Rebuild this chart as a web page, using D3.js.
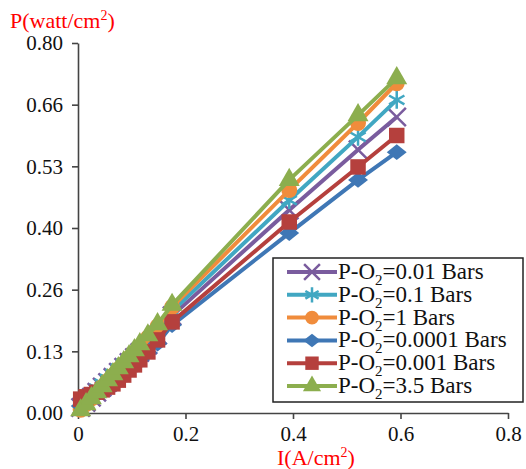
<!DOCTYPE html>
<html>
<head>
<meta charset="utf-8">
<script src="https://cdn.jsdelivr.net/npm/d3@7"></script>
<style>
  body { margin: 0; background: #fff; }
</style>
</head>
<body>
<div id="viz"></div>
<script>
// current density values (A/cm2), shared by all series
let currents = [0.005, 0.015, 0.025, 0.035, 0.045, 0.055, 0.065, 0.075, 0.085, 0.095, 0.105, 0.115, 0.13, 0.148, 0.175, 0.393, 0.521, 0.593]

// power density (watt/cm2) for each O2 pressure
let p001 = [0.012, 0.023, 0.034, 0.045, 0.056, 0.066, 0.077, 0.088, 0.099, 0.109, 0.120, 0.131, 0.147, 0.168, 0.210, 0.439, 0.569, 0.640]
let p01 = [0.020, 0.031, 0.042, 0.053, 0.064, 0.074, 0.085, 0.096, 0.107, 0.117, 0.128, 0.139, 0.156, 0.178, 0.220, 0.460, 0.597, 0.677]
let p1 = [0.007, 0.019, 0.031, 0.044, 0.056, 0.069, 0.081, 0.094, 0.106, 0.119, 0.131, 0.144, 0.163, 0.187, 0.229, 0.482, 0.627, 0.713]
let p00001 = [0.015, 0.025, 0.034, 0.043, 0.052, 0.061, 0.070, 0.079, 0.088, 0.097, 0.106, 0.115, 0.130, 0.150, 0.190, 0.389, 0.504, 0.564]
let p0001 = [0.030, 0.035, 0.040, 0.045, 0.050, 0.056, 0.063, 0.071, 0.082, 0.093, 0.104, 0.115, 0.132, 0.158, 0.197, 0.413, 0.532, 0.600]
let p35 = [0.006, 0.019, 0.032, 0.045, 0.058, 0.071, 0.084, 0.097, 0.110, 0.123, 0.136, 0.149, 0.168, 0.192, 0.234, 0.504, 0.644, 0.724]

let seriesNames = ['0.01', '0.1', '1', '0.0001', '0.001', '3.5']
let seriesValues = [p001, p01, p1, p00001, p0001, p35]
let seriesColors = ['#7a5c9e', '#41a7c2', '#f08c3c', '#3f77b5', '#b5403d', '#8cae4e']
let seriesMarkers = ['times', 'asterisk', 'circle', 'diamond', 'square', 'triangle']

let xTicks = [0, 0.2, 0.4, 0.6, 0.8]
let xTickLabels = ['0', '0.2', '0.4', '0.6', '0.8']
let yTicks = [0, 0.8 / 6, 1.6 / 6, 0.4, 3.2 / 6, 4 / 6, 0.8]
let yTickLabels = ['0.00', '0.13', '0.26', '0.40', '0.53', '0.66', '0.80']

let width = 526, height = 469
let font = '"Liberation Serif", "Times New Roman", serif'

let svg = d3.select('#viz')
			.append('svg')
			.attr('width', width)
			.attr('height', height)
			.style('font-family', font)

let x = d3.scaleLinear().domain([0, 0.8]).range([78, 508])
let y = d3.scaleLinear().domain([0, 0.8]).range([413, 43])

//axes
let xAxis = svg.append('g')
				.attr('transform', `translate(0, ${y(0)})`)
				.call(d3.axisBottom(x)
						.tickValues(xTicks)
						.tickFormat((d, i) => xTickLabels[i])
						.tickSize(6)
						.tickSizeOuter(0)
						.tickPadding(7))

let yAxis = svg.append('g')
				.attr('transform', `translate(${x(0)}, 0)`)
				.call(d3.axisLeft(y)
						.tickValues(yTicks)
						.tickFormat((d, i) => yTickLabels[i])
						.tickSize(6)
						.tickSizeOuter(0)
						.tickPadding(9))

svg.selectAll('.domain, .tick line')
	.attr('stroke', '#444')
	.attr('stroke-width', 1.6)

svg.selectAll('.tick text')
	.attr('font-family', null)
	.style('font-family', font)
	.style('font-size', '21px')
	.attr('fill', '#111')

//axis titles
let yTitle = svg.append('text')
				.attr('x', 10)
				.attr('y', 28)
				.attr('fill', '#ff0000')
				.style('font-size', '22px')
yTitle.append('tspan').text('P(watt/cm')
yTitle.append('tspan').attr('dy', -8).style('font-size', '14px').text('2')
yTitle.append('tspan').attr('dy', 8).text(')')

let xTitle = svg.append('text')
				.attr('x', 277)
				.attr('y', 465)
				.attr('fill', '#ff0000')
				.style('font-size', '22px')
xTitle.append('tspan').text('I(A/cm')
xTitle.append('tspan').attr('dy', -8).style('font-size', '14px').text('2')
xTitle.append('tspan').attr('dy', 8).text(')')

//marker helper
function drawMarker(g, type, color, s) {
	if (type === 'times') {
		g.append('path')
			.attr('d', d3.symbol().type(d3.symbolTimes).size(s * 1.1)())
			.attr('fill', 'none').attr('stroke', color).attr('stroke-width', 2.5)
	} else if (type === 'asterisk') {
		g.append('path')
			.attr('d', d3.symbol().type(d3.symbolAsterisk).size(s * 1.1)())
			.attr('fill', 'none').attr('stroke', color).attr('stroke-width', 2.5)
	} else if (type === 'circle') {
		g.append('path')
			.attr('d', d3.symbol().type(d3.symbolCircle).size(s)())
			.attr('fill', color)
	} else if (type === 'diamond') {
		g.append('path')
			.attr('d', d3.symbol().type(d3.symbolSquare).size(s * 0.75)())
			.attr('transform', 'scale(1.15, 0.9) rotate(45)')
			.attr('fill', color)
	} else if (type === 'square') {
		g.append('path')
			.attr('d', d3.symbol().type(d3.symbolSquare).size(s * 1.2)())
			.attr('fill', color)
	} else {
		g.append('path')
			.attr('d', d3.symbol().type(d3.symbolTriangle).size(s * 0.95)())
			.attr('fill', color)
	}
}

let line = d3.line()
			.x((d, i) => x(currents[i]))
			.y(d => y(d))

//series lines and markers
seriesValues.forEach((vals, k) => {
	let g = svg.append('g')
	g.append('path')
		.datum(vals)
		.attr('d', line)
		.attr('fill', 'none')
		.attr('stroke', seriesColors[k])
		.attr('stroke-width', 4)
		.attr('stroke-linejoin', 'round')

	vals.forEach((v, i) => {
		let m = g.append('g')
				.attr('transform', `translate(${x(currents[i])}, ${y(v)})`)
		drawMarker(m, seriesMarkers[k], seriesColors[k], 200)
	})
})

//legend
let legend = svg.append('g')

legend.append('rect')
		.attr('x', 273)
		.attr('y', 258)
		.attr('width', 250)
		.attr('height', 144)
		.attr('fill', '#fff')
		.attr('stroke', '#222')
		.attr('stroke-width', 1.5)

seriesNames.forEach((name, k) => {
	let cy = 272 + k * 22.8
	legend.append('line')
			.attr('x1', 287).attr('x2', 337)
			.attr('y1', cy).attr('y2', cy)
			.attr('stroke', seriesColors[k])
			.attr('stroke-width', 4)
	let m = legend.append('g').attr('transform', `translate(312, ${cy})`)
	drawMarker(m, seriesMarkers[k], seriesColors[k], 150)

	let t = legend.append('text')
				.attr('x', 338)
				.attr('y', cy + 7)
				.attr('fill', '#111')
				.style('font-size', '23px')
	t.append('tspan').text('P-O')
	t.append('tspan').attr('dy', 6).style('font-size', '15px').text('2')
	t.append('tspan').attr('dy', -6).text(`=${name} Bars`)
})
</script>
</body>
</html>
